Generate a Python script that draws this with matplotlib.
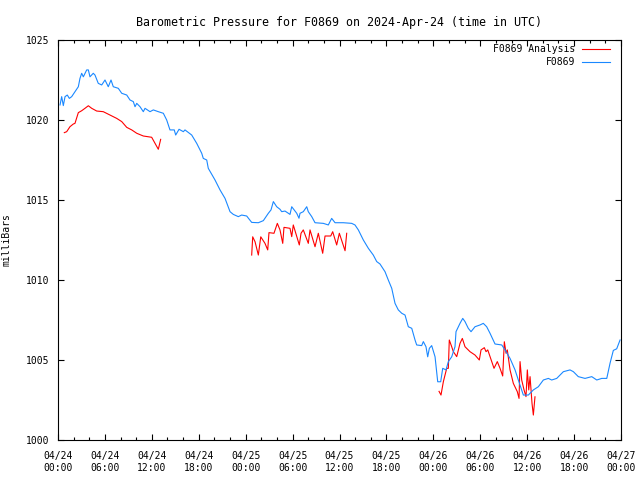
#!/usr/bin/env python3
# -*- coding: utf-8 -*-
"""
Barometric pressure for F0869, gnuplot look
"""

import numpy as np
import matplotlib
matplotlib.use("Agg")
import matplotlib.pyplot as plt
import matplotlib.dates as mdates
from datetime import datetime, timedelta

start = datetime(2024, 4, 24, 0, 0)

# Station observations (hours after start, mb)
obs_hours = [0.26, 0.47, 0.68, 0.9, 1.19, 1.45, 1.75, 2.17, 2.6, 2.81, 3.03, 3.24, 3.67, 3.88,
             4.09, 4.51, 4.73, 5.15, 5.59, 6.01, 6.43, 6.78, 7.07, 7.71, 8.15, 8.79, 9.21, 9.63,
             9.85, 10.07, 10.49, 10.91, 11.13, 11.77, 12.19, 12.83, 13.47, 13.9, 14.32, 14.87,
             15.05, 15.48, 16.03, 16.24, 17.1, 17.74, 18.38, 18.58, 19.02, 19.22, 20.08, 20.72,
             21.36, 22.0, 22.42, 23.06, 23.49, 24.13, 24.77, 25.62, 26.26, 26.9, 27.24, 27.54,
             27.97, 28.39, 28.61, 29.03, 29.67, 29.89, 30.53, 30.82, 30.95, 31.37, 31.81, 32.01,
             32.45, 32.87, 33.93, 34.57, 35.0, 35.43, 36.49, 37.56, 37.98, 38.41, 39.05, 39.69,
             40.32, 40.76, 41.18, 41.82, 42.24, 42.68, 43.1, 43.52, 43.96, 44.38, 44.8, 45.24,
             45.66, 45.87, 46.51, 46.72, 47.06, 47.28, 47.49, 47.79, 48.22, 48.56, 48.94, 49.2,
             49.62, 49.92, 50.35, 50.77, 50.9, 51.41, 51.76, 52.05, 52.47, 52.82, 53.33, 53.97,
             54.39, 54.82, 55.25, 55.89, 56.75, 57.17, 57.81, 58.45, 58.87, 59.3, 59.51, 60.15,
             60.79, 61.43, 62.07, 62.71, 63.14, 63.78, 64.63, 65.48, 65.91, 66.54, 67.4, 68.26,
             68.9, 69.54, 70.18, 70.6, 71.02, 71.45, 71.88]
obs_mb = [1020.94, 1021.46, 1020.9, 1021.46, 1021.56, 1021.35, 1021.46, 1021.77, 1022.08, 1022.6,
          1022.92, 1022.7, 1023.13, 1023.13, 1022.7, 1022.92, 1022.81, 1022.29, 1022.19, 1022.5,
          1022.08, 1022.5, 1022.08, 1021.98, 1021.67, 1021.56, 1021.25, 1021.15, 1020.83, 1021.04,
          1020.83, 1020.52, 1020.73, 1020.52, 1020.63, 1020.52, 1020.42, 1020.0, 1019.38, 1019.38,
          1019.06, 1019.42, 1019.27, 1019.38, 1019.06, 1018.54, 1017.92, 1017.6, 1017.5, 1016.98,
          1016.25, 1015.63, 1015.1, 1014.27, 1014.1, 1013.96, 1014.06, 1014.0, 1013.6, 1013.58,
          1013.71, 1014.17, 1014.38, 1014.9, 1014.58, 1014.42, 1014.27, 1014.31, 1014.1, 1014.58,
          1014.17, 1013.86, 1014.17, 1014.27, 1014.58, 1014.27, 1013.96, 1013.58, 1013.54, 1013.44,
          1013.85, 1013.58, 1013.58, 1013.54, 1013.44, 1013.13, 1012.5, 1011.98, 1011.56, 1011.15,
          1011.0, 1010.52, 1010.0, 1009.48, 1008.54, 1008.13, 1007.92, 1007.81, 1007.08, 1006.98,
          1006.25, 1005.94, 1005.9, 1006.15, 1005.83, 1005.2, 1005.73, 1005.9, 1005.2, 1003.64,
          1003.64, 1004.48, 1004.38, 1004.9, 1005.2, 1005.83, 1006.77, 1007.29, 1007.6, 1007.4,
          1006.98, 1006.77, 1007.08, 1007.19, 1007.29, 1007.08, 1006.67, 1006.0, 1005.94, 1005.63,
          1005.1, 1004.38, 1003.75, 1003.13, 1002.81, 1002.81, 1003.13, 1003.33, 1003.75, 1003.85,
          1003.75, 1003.85, 1004.27, 1004.38, 1004.27, 1003.96, 1003.85, 1003.96, 1003.75, 1003.85,
          1003.85, 1004.8, 1005.6, 1005.7, 1006.25]

# Analysis values, nan marks the gaps
ana_hours = [0.81, 1.11, 1.53, 1.96, 2.17, 2.6, 3.03, 3.45, 3.88, 4.31, 4.95, 5.79, 6.65, 7.51,
             8.15, 8.79, 9.43, 10.07, 10.91, 11.98, 12.41, 12.83, 13.13, 18.0,
             24.77, 24.9, 25.2, 25.62, 25.93, 26.47, 26.82, 26.98, 27.62, 28.05, 28.39, 28.74,
             28.9, 29.67, 29.89, 30.09, 30.86, 31.08, 31.37, 32.01, 32.23, 32.87, 33.29, 33.85,
             34.15, 34.88, 35.13, 35.64, 35.98, 36.71, 36.92, 42.0,
             48.73, 48.98, 49.28, 49.71, 49.92, 50.04, 50.35, 50.56, 50.99, 51.41, 51.71, 52.05,
             52.69, 53.33, 53.88, 54.1, 54.52, 54.74, 54.96, 55.47, 55.76, 56.18, 56.53, 56.87,
             57.08, 57.3, 57.46, 57.81, 58.23, 58.74, 58.96, 59.09, 59.3, 59.6, 59.85, 60.02,
             60.2, 60.37, 60.62, 60.79, 61.0]
ana_mb = [1019.21, 1019.27, 1019.58, 1019.75, 1019.79, 1020.46, 1020.58, 1020.73, 1020.89,
          1020.73, 1020.56, 1020.52, 1020.31, 1020.1, 1019.9, 1019.54, 1019.38, 1019.17, 1019.0,
          1018.92, 1018.54, 1018.17, 1018.79, np.nan,
          1011.56, 1012.7, 1012.39, 1011.56, 1012.7, 1012.29, 1011.88, 1012.96, 1012.92, 1013.54,
          1013.13, 1012.29, 1013.29, 1013.23, 1012.71, 1013.44, 1012.19, 1012.92, 1013.13,
          1012.29, 1013.13, 1012.08, 1012.92, 1011.67, 1012.75, 1012.75, 1013.02, 1012.19,
          1012.92, 1011.83, 1012.92, np.nan,
          1003.04, 1002.81, 1003.64, 1004.48, 1004.48, 1006.25, 1005.83, 1005.52, 1005.21,
          1006.04, 1006.35, 1005.83, 1005.52, 1005.31, 1005.0, 1005.63, 1005.77, 1005.52,
          1005.63, 1004.9, 1004.48, 1004.9, 1004.48, 1004.0, 1006.14, 1005.42, 1005.63, 1004.38,
          1003.54, 1003.02, 1002.6, 1004.9, 1003.75, 1003.13, 1002.71, 1004.38, 1003.13,
          1003.96, 1002.29, 1001.56, 1002.7]

obs_t = [start + timedelta(hours=h) for h in obs_hours]
ana_t = [start + timedelta(hours=h) for h in ana_hours]

plt.rcParams.update({'font.family': 'DejaVu Sans Mono', 'font.size': 7})

fig = plt.figure(figsize=(6.4, 4.8), dpi=100)
ax = fig.add_axes([58/640, 40/480, 563/640, 400/480])

ax.plot(ana_t, ana_mb, color='#ff0000', lw=0.8, label='F0869 Analysis')
ax.plot(obs_t, obs_mb, color='#1a88ff', lw=0.8, label='F0869')

ax.set_xlim(start, start + timedelta(hours=72))
ax.set_ylim(1000, 1025)
ax.set_yticks(np.arange(1000, 1026, 5))

ax.xaxis.set_major_locator(mdates.HourLocator(byhour=range(0, 24, 6)))
ax.xaxis.set_minor_locator(mdates.HourLocator(byhour=range(0, 24, 2)))
ax.xaxis.set_major_formatter(mdates.DateFormatter('%m/%d\n%H:%M'))

ax.tick_params(which='both', direction='in', top=True, right=True, width=0.8)
ax.tick_params(which='major', length=4)
ax.tick_params(which='minor', length=2)
ax.tick_params(axis='x', which='major', pad=8)
ax.tick_params(axis='y', pad=6)
for s in ax.spines.values():
    s.set_linewidth(0.8)

ax.set_ylabel('milliBars')
ax.yaxis.set_label_coords(-46/563, 0.5)
ax.set_title('Barometric Pressure for F0869 on 2024-Apr-24 (time in UTC)', pad=10)

leg = ax.legend(loc='upper right', frameon=False, markerfirst=False,
                bbox_to_anchor=(1 - 11/563, 1 - 4/400), borderaxespad=0, borderpad=0,
                handlelength=2.9, handletextpad=0.7, labelspacing=0.35)

fig.savefig('out.png', dpi=100)
